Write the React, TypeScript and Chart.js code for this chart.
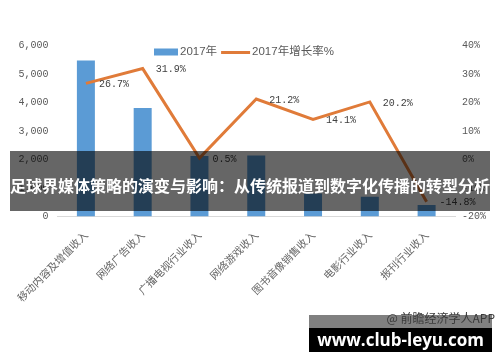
import React, { useEffect, useRef } from "react";
import { Chart, registerables } from "chart.js";

Chart.register(...registerables);

// ---- data ----
const categories = [
  "移动内容及增值收入",
  "网络广告收入",
  "广播电视行业收入",
  "网络游戏收入",
  "图书音像销售收入",
  "电影行业收入",
  "报刊行业收入",
];
const revenue2017 = [5470, 3810, 2120, 2140, 810, 690, 400];
const growthRate = [26.7, 31.9, 0.5, 21.2, 14.1, 20.2, -14.8];
const barLabel = "2017年";
const lineLabel = "2017年增长率%";
const leftAxis = { min: 0, max: 6000, step: 1000 };
const rightAxis = { min: -20, max: 40, step: 10 };
const titleText = "足球界媒体策略的演变与影响：从传统报道到数字化传播的转型分析";
const sourceText = "@ 前瞻经济学人APP";
const siteText = "www.club-leyu.com";

// ---- styles ----
const BAR_COLOR = "#5B9BD5";
const LINE_COLOR = "#E07B39";
const TICK_COLOR = "#595959";
const MONO = '"Liberation Mono", monospace';
const CJK = '"Noto Sans CJK SC", sans-serif';

const lineLabelsPlugin = {
  id: "lineLabels",
  afterDatasetsDraw(chart: any) {
    const meta = chart.getDatasetMeta(1);
    const ctx = chart.ctx;
    ctx.save();
    ctx.font = `10px ${MONO}`;
    ctx.fillStyle = "#404040";
    ctx.textAlign = "left";
    ctx.textBaseline = "middle";
    meta.data.forEach((pt: any, i: number) => {
      ctx.fillText(growthRate[i].toFixed(1) + "%", pt.x + 13, pt.y + 1);
    });
    ctx.restore();
  },
};

const customLegendPlugin = {
  id: "customLegend",
  afterDraw(chart: any) {
    const ctx = chart.ctx;
    ctx.save();
    ctx.font = `11.5px "Liberation Sans", ${CJK}`;
    ctx.textBaseline = "middle";
    ctx.textAlign = "left";
    const y = 52;
    let x = 154;
    ctx.fillStyle = BAR_COLOR;
    ctx.fillRect(x, y - 3.5, 24, 7);
    x += 26;
    ctx.fillStyle = TICK_COLOR;
    ctx.fillText(chart.data.datasets[0].label, x, y);
    x += ctx.measureText(chart.data.datasets[0].label).width + 4;
    ctx.strokeStyle = LINE_COLOR;
    ctx.lineWidth = 3;
    ctx.beginPath();
    ctx.moveTo(x, y + 0.5);
    ctx.lineTo(x + 29, y + 0.5);
    ctx.stroke();
    x += 31;
    ctx.fillText(chart.data.datasets[1].label, x, y);
    ctx.restore();
  },
};

export default function App() {
  const canvasRef = useRef<HTMLCanvasElement | null>(null);

  useEffect(() => {
    if (!canvasRef.current) return;
    const chart = new Chart(canvasRef.current, {
      data: {
        labels: categories,
        datasets: [
          {
            type: "bar",
            label: barLabel,
            data: revenue2017,
            backgroundColor: BAR_COLOR,
            yAxisID: "y",
            order: 2,
            categoryPercentage: 1,
            barPercentage: 0.317,
          },
          {
            type: "line",
            label: lineLabel,
            data: growthRate,
            borderColor: LINE_COLOR,
            backgroundColor: LINE_COLOR,
            borderWidth: 3,
            pointRadius: 0,
            tension: 0,
            yAxisID: "y1",
            order: 1,
          },
        ],
      } as any,
      options: {
        responsive: false,
        animation: false,
        layout: { padding: { top: 45.5, left: 0, right: 0, bottom: 0 } },
        plugins: {
          legend: { display: false },
          tooltip: { enabled: false },
        },
        scales: {
          x: {
            grid: { display: false, drawTicks: false },
            border: { display: true, color: "#D9D9D9", width: 1 },
            ticks: {
              minRotation: 45,
              maxRotation: 45,
              autoSkip: false,
              color: "#666666",
              font: { family: CJK, size: 10.5 },
              padding: 12,
            },
            afterFit: (s: any) => {
              s.height = 362 - 216.5;
            },
          },
          y: {
            position: "left",
            min: leftAxis.min,
            max: leftAxis.max,
            grid: { display: false, drawTicks: false },
            border: { display: false },
            ticks: {
              stepSize: leftAxis.step,
              color: TICK_COLOR,
              font: { family: MONO, size: 10 },
              padding: 9,
            },
            afterFit: (s: any) => {
              s.width = 57.5;
            },
          },
          y1: {
            position: "right",
            min: rightAxis.min,
            max: rightAxis.max,
            grid: { display: false, drawTicks: false },
            border: { display: false },
            ticks: {
              stepSize: rightAxis.step,
              color: TICK_COLOR,
              font: { family: MONO, size: 10 },
              padding: 7,
              callback: (v: any) => v + "%",
            },
            afterFit: (s: any) => {
              s.width = 45;
            },
          },
        },
      } as any,
      plugins: [lineLabelsPlugin, customLegendPlugin],
    });
    return () => chart.destroy();
  }, []);

  return (
    <div
      style={{
        position: "fixed",
        left: 0,
        top: 0,
        width: 500,
        height: 362,
        background: "#fff",
        overflow: "hidden",
      }}
    >
      <canvas
        ref={canvasRef}
        width={500}
        height={362}
        style={{ position: "absolute", left: 0, top: 0, display: "block" }}
      />
      <div
        style={{
          position: "absolute",
          left: 10,
          top: 151,
          width: 480,
          height: 60,
          background: "rgba(0,0,0,0.6)",
        }}
      />
      <div
        style={{
          position: "absolute",
          left: 0,
          top: 176,
          width: 500,
          height: 18,
          lineHeight: "18px",
          textAlign: "center",
          color: "#fff",
          fontFamily: CJK,
          fontWeight: 700,
          fontSize: 16,
          whiteSpace: "nowrap",
        }}
      >
        {titleText}
      </div>
      <div
        style={{
          position: "absolute",
          left: 309,
          top: 315,
          width: 183,
          height: 13,
          background: "#808080",
        }}
      />
      <div
        style={{
          position: "absolute",
          right: 5,
          top: 310,
          height: 16,
          lineHeight: "16px",
          color: "#3a3a3a",
          fontFamily: CJK,
          fontSize: 12,
          whiteSpace: "nowrap",
        }}
      >
        {sourceText}
      </div>
      <div
        style={{
          position: "absolute",
          left: 309,
          top: 328,
          width: 183,
          height: 24,
          lineHeight: "24px",
          background: "#000",
          color: "#fff",
          fontFamily: '"Open Sans", sans-serif',
          fontWeight: 700,
          fontSize: 17,
          textAlign: "center",
          whiteSpace: "nowrap",
        }}
      >
        {siteText}
      </div>
    </div>
  );
}
